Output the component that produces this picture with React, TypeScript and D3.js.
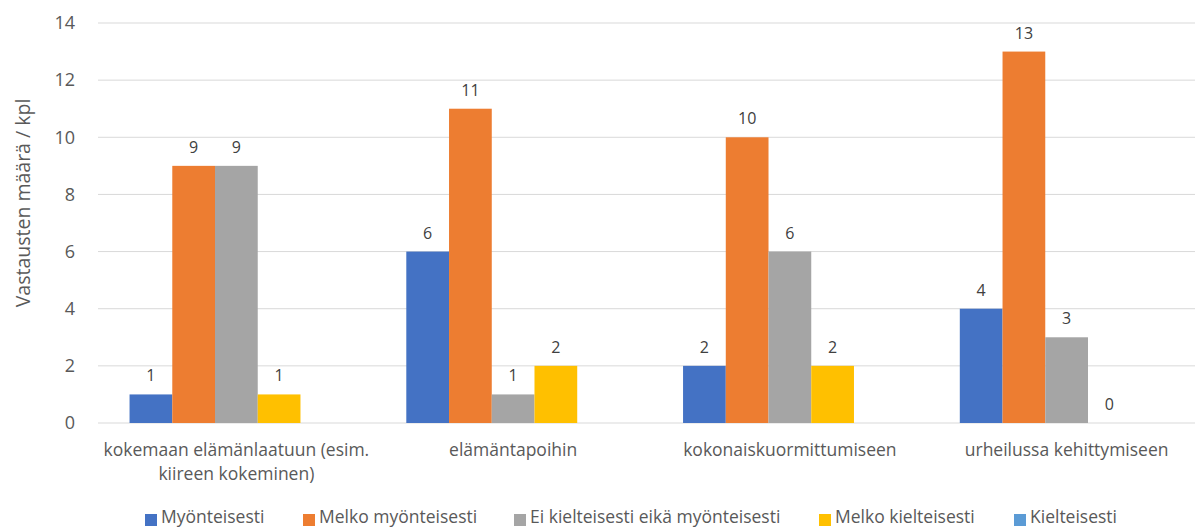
import React, { useEffect, useRef } from 'react';
import * as d3 from 'd3';

const categories = [
  ['kokemaan elämänlaatuun (esim.', 'kiireen kokeminen)'],
  ['elämäntapoihin'],
  ['kokonaiskuormittumiseen'],
  ['urheilussa kehittymiseen'],
];
const seriesNames = [
  'Myönteisesti',
  'Melko myönteisesti',
  'Ei kielteisesti eikä myönteisesti',
  'Melko kielteisesti',
  'Kielteisesti',
];
const seriesColors = ['#4472C4', '#ED7D31', '#A5A5A5', '#FFC000', '#5B9BD5'];
const myonteisesti = [1, 6, 2, 4];
const melkoMyonteisesti = [9, 11, 10, 13];
const eiKumpikaan = [9, 1, 6, 3];
const melkoKielteisesti = [1, 2, 2, 0];
const kielteisesti: (number | null)[] = [null, null, null, null];
const yTicks = [0, 2, 4, 6, 8, 10, 12, 14];

const values = [myonteisesti, melkoMyonteisesti, eiKumpikaan, melkoKielteisesti, kielteisesti];

export default function App() {
  const svgRef = useRef<SVGSVGElement>(null);

  useEffect(() => {
    if (!svgRef.current) return;
    const svg = d3.select(svgRef.current);
    svg.selectAll('*').remove();

    const left = 98;
    const right = 1205;
    const top = 23;
    const bottom = 423;
    const font = 'Open Sans, sans-serif';

    // plot area runs a little past the right edge of the picture
    const x0 = d3.scaleBand<number>().domain(d3.range(categories.length)).range([left, right]).paddingInner(0.228).paddingOuter(0.114);
    const x1 = d3.scaleBand<number>().domain(d3.range(seriesNames.length)).range([0, x0.bandwidth()]);
    const y = d3.scaleLinear().domain([0, 14]).range([bottom, top]);

    // gridlines
    svg.append('g')
      .selectAll('line')
      .data(yTicks)
      .enter()
      .append('line')
      .attr('x1', left)
      .attr('x2', 1195)
      .attr('y1', d => y(d))
      .attr('y2', d => y(d))
      .attr('stroke', '#D9D9D9')
      .attr('stroke-width', 1);

    // y tick labels
    svg.append('g')
      .selectAll('text')
      .data(yTicks)
      .enter()
      .append('text')
      .attr('x', 75)
      .attr('y', d => y(d))
      .attr('dy', '0.35em')
      .attr('text-anchor', 'end')
      .attr('font-family', font)
      .attr('font-size', 18)
      .attr('fill', '#595959')
      .text(d => d);

    // y title
    svg.append('text')
      .attr('transform', `translate(30,203) rotate(-90)`)
      .attr('text-anchor', 'middle')
      .attr('font-family', font)
      .attr('font-size', 19.5)
      .attr('fill', '#595959')
      .text('Vastausten määrä / kpl');

    // bars
    const groups = svg.append('g')
      .selectAll('g')
      .data(categories)
      .enter()
      .append('g')
      .attr('transform', (_, i) => `translate(${x0(i)},0)`);

    groups.each(function (_, ci) {
      const g = d3.select(this);
      values.forEach((vals, si) => {
        const v = vals[ci];
        if (v === null) return;
        g.append('rect')
          .attr('x', x1(si)!)
          .attr('y', y(v))
          .attr('width', x1.bandwidth())
          .attr('height', y(0) - y(v))
          .attr('fill', seriesColors[si]);
        g.append('text')
          .attr('x', x1(si)! + x1.bandwidth() / 2)
          .attr('y', y(v) - 13)
          .attr('text-anchor', 'middle')
          .attr('font-family', font)
          .attr('font-size', 16)
          .attr('fill', '#404040')
          .text(v);
      });
    });

    // category labels
    svg.append('g')
      .selectAll('text')
      .data(categories)
      .enter()
      .append('text')
      .attr('x', (_, i) => x0(i)! + x0.bandwidth() / 2)
      .attr('y', 456)
      .attr('text-anchor', 'middle')
      .attr('font-family', font)
      .attr('font-size', 17.5)
      .attr('fill', '#595959')
      .each(function (lines) {
        const t = d3.select(this);
        lines.forEach((line, li) => {
          t.append('tspan')
            .attr('x', t.attr('x'))
            .attr('dy', li === 0 ? 0 : 24)
            .text(line);
        });
      });

    // legend
    const legendX = [145, 303, 514, 819, 1014];
    const legend = svg.append('g')
      .selectAll('g')
      .data(seriesNames)
      .enter()
      .append('g')
      .attr('transform', (_, i) => `translate(${legendX[i]},514)`);
    legend.append('rect')
      .attr('width', 12)
      .attr('height', 12)
      .attr('fill', (_, i) => seriesColors[i]);
    legend.append('text')
      .attr('x', 16)
      .attr('y', 9)
      .attr('font-family', font)
      .attr('font-size', 17.5)
      .attr('fill', '#595959')
      .text(d => d);
  }, []);

  return (
    <svg
      ref={svgRef}
      width={1195}
      height={527}
      style={{ position: 'absolute', left: 0, top: 0, background: '#fff' }}
    />
  );
}
